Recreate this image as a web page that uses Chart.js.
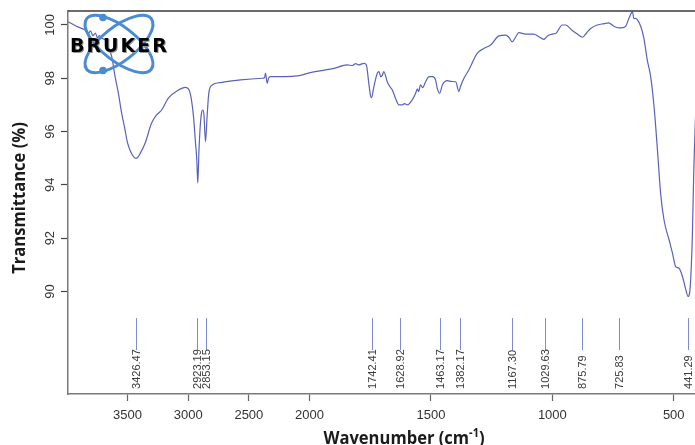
<!DOCTYPE html>
<html>
<head>
<meta charset="utf-8">
<script src="https://cdn.jsdelivr.net/npm/chart.js@4.4.1/dist/chart.umd.min.js"></script>
<style>
  html, body { margin: 0; padding: 0; background: #fff; overflow: hidden; }
  #wrap { width: 700px; height: 445px; }
</style>
</head>
<body>
<div id="wrap"><canvas id="irChart"></canvas></div>
<script>
// FTIR spectrum
const wavenumbers = [
  3987, 3921, 3849, 3822, 3805, 3785, 3764, 3748, 3731, 3712, 3684, 3657, 3630, 3602,
  3575, 3550, 3520, 3501, 3479, 3459, 3437, 3418, 3393, 3354, 3303, 3261, 3220, 3162,
  3080, 3025, 2992, 2973, 2956, 2940, 2929, 2921, 2911, 2901, 2890, 2879, 2870, 2857,
  2845, 2830, 2802, 2734, 2569, 2390, 2371, 2363, 2349, 2338, 2321, 2198, 2101, 1996,
  1900, 1845, 1823, 1810, 1798, 1776, 1766, 1756, 1749, 1745, 1735, 1721, 1714, 1707,
  1700, 1694, 1680, 1670, 1659, 1646, 1632, 1618, 1609, 1597, 1577, 1563, 1556, 1551,
  1543, 1534, 1522, 1508, 1494, 1481, 1474, 1464, 1453, 1433, 1415, 1398, 1385, 1378,
  1364, 1344, 1309, 1282, 1254, 1220, 1192, 1180, 1165, 1151, 1138, 1110, 1076, 1055,
  1035, 1019, 1000, 986, 959, 945, 918, 900, 876, 859, 842, 815, 787, 768, 746, 727,
  711, 698, 684, 670, 664, 657, 650, 636, 623, 609, 595, 581, 567, 554, 540, 519, 505,
  492, 478, 464, 450, 441, 432, 423, 417, 410, 402
];
const transmittance = [
  100.12, 99.95, 99.81, 99.68, 99.78, 99.6, 99.7, 99.52, 99.6, 99.5, 99.44, 99.15, 98.81, 98.06,
  97.44, 96.74, 96.06, 95.6, 95.3, 95.12, 95.0, 95.02, 95.2, 95.57, 96.3, 96.62, 96.8, 97.26,
  97.56, 97.66, 97.56, 97.19, 96.56, 95.6, 94.93, 94.07, 95.3, 96.18, 96.7, 96.81, 96.62, 95.62,
  96.5, 97.44, 97.75, 97.84, 97.94, 98.0, 98.02, 98.19, 97.81, 98.0, 98.06, 98.06, 98.09, 98.21,
  98.37, 98.5, 98.48, 98.55, 98.5, 98.56, 98.5, 97.81, 97.35, 97.27, 97.69, 98.19, 98.25, 98.06,
  98.12, 98.25, 97.87, 97.7, 97.56, 97.25, 97.0, 97.0, 97.05, 97.0, 97.19, 97.44, 97.6, 97.5,
  97.75, 97.65, 97.87, 98.06, 98.06, 97.94, 97.62, 97.44, 97.75, 97.91, 97.88, 97.87, 97.5, 97.7,
  98.0, 98.31, 98.94, 99.12, 99.25, 99.59, 99.62, 99.55, 99.37, 99.55, 99.71, 99.66, 99.66, 99.56,
  99.46, 99.6, 99.66, 99.68, 100.0, 100.0, 99.79, 99.68, 99.54, 99.7, 99.87, 100.0, 100.05, 100.08, 99.95, 99.89,
  99.9, 99.95, 100.26, 100.49, 100.24, 100.25, 100.2, 99.95, 99.51, 98.69, 98.06, 96.93, 95.31, 93.68, 92.68, 91.93, 91.43,
  90.93, 90.87, 90.56, 90.06, 89.81, 90.18, 92.18, 94.68, 96.62, 98.5
];
const peakPositions = [3426.47, 2923.19, 2853.15, 1742.41, 1628.92, 1463.17, 1382.17, 1167.30, 1029.63, 875.79, 725.83, 441.29];
const xTickLabels = [3500, 3000, 2500, 2000, 1500, 1000, 500];
const yTickLabels = [90, 92, 94, 96, 98, 100];

// above 2000 cm-1 the axis is compressed by half
function squeeze(w) { return w > 2000 ? 2000 + (w - 2000) / 2 : w; }
function unsqueeze(u) { return u > 2000 ? 2000 + (u - 2000) * 2 : u; }

const narrow = "'Liberation Sans Narrow', 'Liberation Sans', Arial, sans-serif";
const titleFont = 'bold 18px "Open Sans", sans-serif';
const lineColor = 'rgb(88, 98, 186)';

const extras = {
  id: 'extras',
  afterDatasetsDraw(chart) {
    const { ctx, chartArea, scales } = chart;
    const xs = scales.x, ys = scales.y;
    ctx.save();
    // top frame line
    ctx.strokeStyle = '#3a3a3a';
    ctx.lineWidth = 1.5;
    ctx.beginPath();
    ctx.moveTo(chartArea.left, chartArea.top);
    ctx.lineTo(chartArea.right + 5, chartArea.top);
    ctx.stroke();

    // peak markers
    peakPositions.forEach(p => {
      const x = Math.round(xs.getPixelForValue(squeeze(p))) + 0.5;
      ctx.strokeStyle = 'rgb(125, 140, 210)';
      ctx.lineWidth = 1;
      ctx.beginPath();
      ctx.moveTo(x, ys.getPixelForValue(89.0));
      ctx.lineTo(x, ys.getPixelForValue(87.8));
      ctx.stroke();
      ctx.save();
      ctx.translate(x, ys.getPixelForValue(86.34));
      ctx.rotate(-Math.PI / 2);
      ctx.fillStyle = '#3a3a3a';
      ctx.font = '11px ' + narrow;
      ctx.textAlign = 'left';
      ctx.textBaseline = 'middle';
      ctx.fillText(p.toFixed(2), 0, 0);
      ctx.restore();
    });

    // Bruker logo
    ctx.strokeStyle = '#4a8bd2';
    ctx.fillStyle = '#4a8bd2';
    ctx.lineWidth = 3;
    [38, -38].forEach(a => {
      ctx.beginPath();
      ctx.ellipse(119, 44, 41, 17, a * Math.PI / 180, 0, Math.PI * 2);
      ctx.stroke();
    });
    ctx.beginPath(); ctx.arc(103, 17.5, 3.8, 0, Math.PI * 2); ctx.fill();
    ctx.beginPath(); ctx.arc(103, 70.5, 3.8, 0, Math.PI * 2); ctx.fill();
    ctx.font = 'bold 19px "DejaVu Sans", sans-serif';
    ctx.letterSpacing = '2px';
    ctx.textAlign = 'left';
    ctx.textBaseline = 'alphabetic';
    ctx.fillStyle = '#999';
    ctx.fillText('BRUKER', 71, 53);
    ctx.fillStyle = '#000';
    ctx.fillText('BRUKER', 70, 52);
    ctx.letterSpacing = '0px';

    // axis titles (slightly condensed)
    ctx.fillStyle = '#1a1a1a';
    ctx.font = titleFont;
    ctx.save();
    ctx.translate(20, 198);
    ctx.rotate(-Math.PI / 2);
    ctx.scale(0.92, 1);
    ctx.textAlign = 'center';
    ctx.textBaseline = 'middle';
    ctx.fillText('Transmittance (%)', 0, 0);
    ctx.restore();

    const base = 'Wavenumber (cm';
    const bw = ctx.measureText(base).width;
    ctx.font = 'bold 12px "Open Sans", sans-serif';
    const sw = ctx.measureText('-1').width;
    ctx.font = titleFont;
    const cw = ctx.measureText(')').width;
    ctx.save();
    ctx.translate(404, 444);
    ctx.scale(0.92, 1);
    const x0 = -(bw + sw + cw) / 2;
    ctx.textAlign = 'left';
    ctx.textBaseline = 'alphabetic';
    ctx.fillText(base, x0, 0);
    ctx.font = 'bold 12px "Open Sans", sans-serif';
    ctx.fillText('-1', x0 + bw, -7);
    ctx.font = titleFont;
    ctx.fillText(')', x0 + bw + sw, 0);
    ctx.restore();
    ctx.restore();
  }
};

new Chart(document.getElementById('irChart'), {
  type: 'line',
  data: {
    datasets: [{
      data: wavenumbers.map((w, i) => ({ x: squeeze(w), y: transmittance[i] })),
      borderColor: lineColor,
      borderWidth: 1.2,
      pointRadius: 0,
      cubicInterpolationMode: 'monotone',
      fill: false
    }]
  },
  options: {
    responsive: true,
    maintainAspectRatio: false,
    animation: false,
    layout: { padding: { top: 11, right: 2, left: 0, bottom: 0 } },
    plugins: { legend: { display: false }, tooltip: { enabled: false } },
    scales: {
      x: {
        type: 'linear',
        reverse: true,
        min: squeeze(400),
        max: squeeze(3990),
        afterBuildTicks: s => { s.ticks = xTickLabels.map(v => ({ value: squeeze(v) })); },
        afterFit: s => { s.height = 51; },
        ticks: {
          callback: v => String(Math.round(unsqueeze(v))),
          color: '#333',
          font: { family: narrow, size: 13 },
          padding: 7,
          maxRotation: 0,
          autoSkip: false
        },
        grid: { drawOnChartArea: false, tickLength: 7, color: '#666', tickWidth: 1.2 },
        border: { color: '#7a7a7a', width: 1.5 }
      },
      y: {
        min: 86.15,
        max: 100.525,
        afterBuildTicks: s => { s.ticks = yTickLabels.map(v => ({ value: v })); },
        afterFit: s => { s.width = 68; },
        ticks: {
          color: '#333',
          font: { family: narrow, size: 13 },
          minRotation: 90,
          maxRotation: 90,
          crossAlign: 'center',
          padding: 0
        },
        grid: { drawOnChartArea: false, tickLength: 7, color: '#444', tickWidth: 1.2 },
        border: { color: '#7a7a7a', width: 1.5 }
      }
    }
  },
  plugins: [extras]
});
</script>
</body>
</html>
